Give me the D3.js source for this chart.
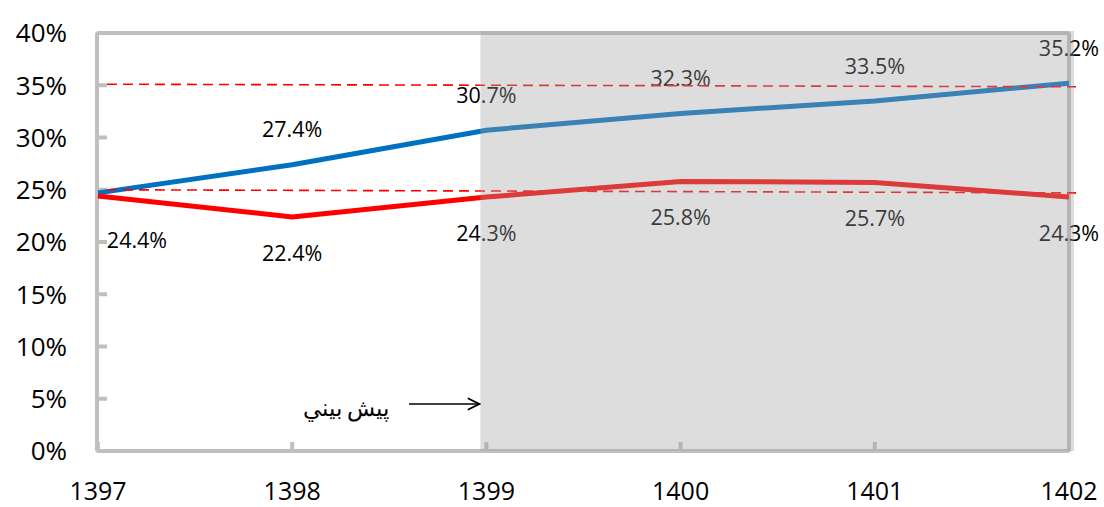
<!DOCTYPE html>
<html><head><meta charset="utf-8">
<script src="https://cdn.jsdelivr.net/npm/d3@7"></script>
<style>body{margin:0;background:#fff}svg{display:block}text{font-family:"Open Sans","Noto Sans",sans-serif}</style>
</head><body><svg id="c" width="1104" height="507"></svg>
<script>
const years = ["1397","1398","1399","1400","1401","1402"];
const blueVals = [24.7, 27.4, 30.7, 32.3, 33.5, 35.2];
const redVals = [24.4, 22.4, 24.3, 25.8, 25.7, 24.3];
const blueLabels = [null, "27.4%", "30.7%", "32.3%", "33.5%", "35.2%"];
const redLabels = ["24.4%", "22.4%", "24.3%", "25.8%", "25.7%", "24.3%"];
const upperRef = [35.1, 34.85];
const lowerRef = [25.0, 24.7];
const yTicks = [0,5,10,15,20,25,30,35,40];
const forecastStart = "1399";
const forecastText = "پيش بيني";

const svg = d3.select("#c");
const x = d3.scalePoint().domain(years).range([98, 1069]);
const y = d3.scaleLinear().domain([0, 40]).range([451, 33]);

const g = svg.append("g");
g.append("rect").attr("x", x(years[0])-1).attr("y", y(40)).attr("width", x(years[5])-x(years[0])+1).attr("height", y(0)-y(40))
  .attr("fill","none").attr("stroke","#bfbfbf").attr("stroke-width",4).attr("rx",2);

yTicks.forEach(t=>{
  g.append("line").attr("x1",x(years[0])).attr("x2",x(years[0])+9).attr("y1",y(t)).attr("y2",y(t)).attr("stroke","#bfbfbf").attr("stroke-width",4);
  svg.append("text").attr("x",67).attr("y",y(t)).attr("dy","0.36em").attr("text-anchor","end").attr("font-size",26).attr("fill","#000").text(t+"%");
});
years.forEach(yr=>{
  g.append("line").attr("x1",x(yr)).attr("x2",x(yr)).attr("y1",y(0)).attr("y2",y(0)-9).attr("stroke","#bfbfbf").attr("stroke-width",4);
  svg.append("text").attr("x",x(yr)).attr("y",491).attr("dy","0.36em").attr("text-anchor","middle").attr("font-size",25).attr("fill","#000").text(yr);
});

const line = d3.line().x((d,i)=>x(years[i])).y(d=>y(d));
svg.append("path").datum(blueVals).attr("d",line).attr("fill","none").attr("stroke","#0070c0").attr("stroke-width",5);
svg.append("path").datum(redVals).attr("d",line).attr("fill","none").attr("stroke","#ff0000").attr("stroke-width",5);

blueVals.forEach((v,i)=>{
  if(!blueLabels[i]) return;
  svg.append("text").attr("x",x(years[i])).attr("y",y(v)-35).attr("dy","0.36em").attr("text-anchor","middle").attr("font-size",21.5).attr("fill","#000").text(blueLabels[i]);
});
redVals.forEach((v,i)=>{
  const dx = i===0 ? 39 : 0;
  const dy = i===0 ? 44 : 36;
  svg.append("text").attr("x",x(years[i])+dx).attr("y",y(v)+dy).attr("dy","0.36em").attr("text-anchor","middle").attr("font-size",21.5).attr("fill","#000").text(redLabels[i]);
});

[upperRef, lowerRef].forEach(r=>{
  svg.append("line").attr("x1",x(years[0])+9).attr("x2",1076).attr("y1",y(r[0])).attr("y2",y(r[1]))
    .attr("stroke","#ff0000").attr("stroke-width",1.6).attr("stroke-dasharray","10,6");
});

const fx = x(forecastStart)-6;
svg.append("rect").attr("x",fx).attr("y",y(40)-2).attr("width",1074-fx).attr("height",y(0)-y(40)+2)
  .attr("fill","rgb(162,162,162)").attr("fill-opacity",0.36);

svg.append("defs").append("marker").attr("id","ah").attr("viewBox","0 0 12 12").attr("refX",11).attr("refY",6)
  .attr("markerWidth",14).attr("markerHeight",14).attr("markerUnits","userSpaceOnUse").attr("orient","auto")
  .append("path").attr("d","M1,1 L11,6 L1,11").attr("fill","none").attr("stroke","#000").attr("stroke-width",1.5);
svg.append("line").attr("x1",409).attr("x2",fx-1).attr("y1",404).attr("y2",404).attr("stroke","#000").attr("stroke-width",1.5).attr("marker-end","url(#ah)");
svg.append("text").attr("x",346).attr("y",408).attr("dy","0.36em").attr("text-anchor","middle").attr("font-size",23)
  .attr("font-family","'DejaVu Sans','Noto Sans',sans-serif").attr("direction","rtl").attr("fill","#000").text(forecastText);
</script></body></html>
